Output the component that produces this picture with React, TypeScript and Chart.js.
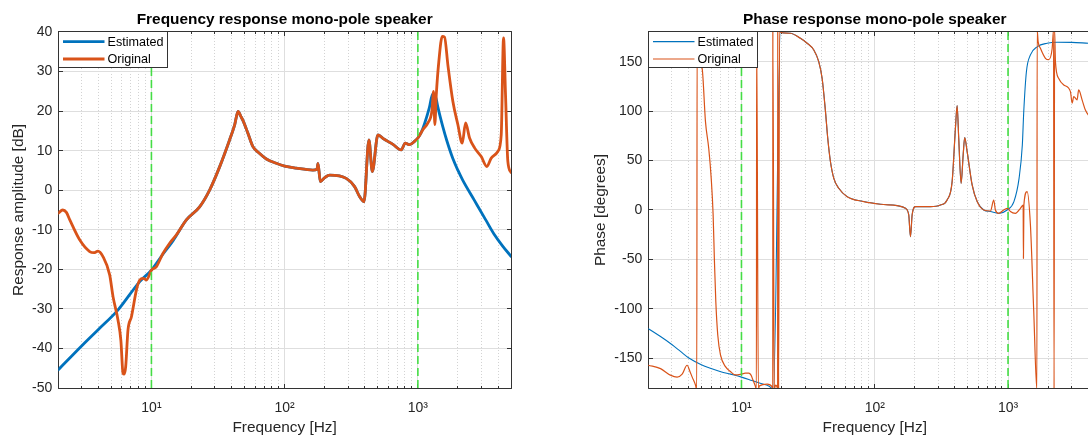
import React, { useEffect, useRef } from 'react';
import { Chart, registerables } from 'chart.js';

Chart.register(...registerables);

const FONT = '"Liberation Sans", Arial, Helvetica, sans-serif';
const TEXT = '#262626';
const AXIS = '#333333';
const BLUE = '#0072BD';
const ORANGE = '#D95319';
const GREEN = '#45dd45';

const seriesNames = ['Estimated', 'Original'];
const titles = ['Frequency response mono-pole speaker', 'Phase response mono-pole speaker'];
const yLabels = ['Response amplitude [dB]', 'Phase [degrees]'];
const xLabel = 'Frequency [Hz]';

const xRange = [2, 5000];
const xTickValues = [2, 3, 4, 5, 6, 7, 8, 9, 10, 20, 30, 40, 50, 60, 70, 80, 90, 100, 200, 300, 400, 500, 600, 700, 800, 900, 1000, 2000, 3000, 4000, 5000];
const xMajorValues = [10, 100, 1000];
const xMajorLabels = ['10¹', '10²', '10³'];
const magRange = [-50, 40];
const magTicks = [-50, -40, -30, -20, -10, 0, 10, 20, 30, 40];
const phaseRange = [-180, 180];
const phaseTicks = [-150, -100, -50, 0, 50, 100, 150];
const markerFreqs = [10, 1000];

// Magnitude, Original
const magOrigFreq = [2, 2.16, 2.3, 2.44, 2.9, 3.44, 3.7, 3.97, 4.33, 4.86, 5.15, 5.61, 5.9, 6.12, 6.25, 6.41, 6.67, 7.08, 7.72, 8.17, 8.7, 9.17, 10, 10.9, 12.2, 13.7, 15.4, 18.3, 23, 27.4, 32.5, 38.6, 42.2, 44.7, 47, 48.7, 53, 57.8, 64.9, 72.9, 86.6, 100, 122, 163, 175, 178, 185, 200, 218, 290, 335, 365, 394, 429, 455, 501, 546, 650, 750, 804, 867, 947, 1000, 1090, 1189, 1274, 1312, 1341, 1374, 1437, 1524, 1586, 1679, 1830, 1995, 2153, 2280, 2443, 2663, 2989, 3294, 3553, 3982, 4223, 4395, 4549, 4734, 5000];
const magOrigDb = [-5.8, -5.0, -5.6, -7.5, -12.6, -15.5, -15.8, -15.4, -16.8, -21.4, -26.9, -32.8, -38, -46.3, -46.5, -44.6, -35.3, -32, -25.2, -22.7, -22.3, -22.7, -20.2, -19.3, -16, -13.4, -11.3, -7.5, -4.2, 0.1, 5.9, 12.7, 16.6, 19.9, 18.6, 17.6, 14.4, 11.0, 9.3, 7.9, 6.8, 6.1, 5.6, 5.1, 5.3, 6.8, 2.2, 3.2, 3.8, 3.0, 0.9, -1.6, -2.9, 12.7, 4.7, 14, 13.1, 11.6, 10.2, 11.9, 11.5, 12.4, 13.2, 15.3, 17, 20, 25, 16.6, 24, 32.6, 38.9, 38.7, 31.7, 22.5, 16.6, 11.9, 17, 13.2, 10.7, 8.5, 6, 8.1, 9.8, 14, 38.5, 24.1, 7.3, 4.5];

// Magnitude, Estimated
const magEstFreq = [2, 3.07, 4, 5.6, 8.17, 10, 12, 14.5, 18.3, 23, 27.4, 32.5, 38.6, 42.2, 44.7, 47, 48.7, 53, 57.8, 64.9, 72.9, 86.6, 100, 122, 163, 175, 178, 185, 200, 218, 290, 335, 365, 394, 429, 455, 501, 546, 650, 750, 804, 867, 947, 1000, 1060, 1122, 1218, 1290, 1330, 1374, 1413, 1540, 1650, 1830, 2000, 2175, 2650, 3230, 3714, 4300, 5000];
const magEstDb = [-45.4, -39, -35.2, -30.3, -23.1, -20.2, -16.5, -12.8, -7.5, -4.2, 0.1, 5.9, 12.7, 16.6, 19.9, 18.6, 17.6, 14.4, 11.0, 9.3, 7.9, 6.8, 6.1, 5.6, 5.1, 5.3, 6.8, 2.2, 3.2, 3.8, 3.0, 0.9, -1.6, -2.9, 12.7, 4.7, 14, 13.1, 11.6, 10.2, 11.9, 11.5, 12.4, 13.2, 14.6, 16.8, 20.8, 24.3, 24.2, 23, 21, 16, 12.5, 8.0, 5.0, 2.5, -2.5, -7.5, -11.0, -14.0, -16.7];

// Phase, Original
const phOrigFreq = [2, 2.47, 2.93, 3.29, 3.59, 3.91, 4.1, 4.27, 4.52, 4.62, 4.65, 4.8, 5.07, 5.37, 5.68, 5.93, 6.13, 6.27, 6.42, 6.64, 6.96, 7.59, 8.27, 9.02, 9.83, 10.7, 11.34, 11.8, 12.2, 12.74, 12.95, 13.0, 13.39, 13.6, 15.6, 17.0, 17.18, 17.2, 17.62, 18.0, 18.5, 18.68, 18.72, 19.01, 19.3, 19.62, 20.8, 23.3, 27.7, 31.1, 34.9, 38.0, 40.3, 42.7, 44.4, 46.5, 49.3, 53.7, 62.1, 82.7, 110.4, 147.2, 170, 179.9, 185.3, 190.8, 202, 261.7, 311, 349, 380.7, 403, 415, 426.6, 444.6, 460.6, 473, 493.4, 537.9, 586.6, 657.3, 737.9, 781, 804, 851, 928, 995, 1042, 1136, 1239, 1298, 1305, 1315, 1390, 1472, 1559, 1647, 1653, 1683, 1750, 1908, 2020, 2142, 2195, 2215, 2235, 2268, 2401, 2618, 2938, 3026, 3111, 3297, 3389, 3594, 3805, 4009, 4500, 5000];
const phOrigDeg = [-157, -160.4, -167, -169, -166, -157, -163, -169, -177, -182, 182, 152, 143.3, 89.4, 62.4, 32, -5, -52, -92.6, -126.4, -146.6, -158.4, -163.4, -166.8, -166.2, -165, -165, -167, -172, -178.6, -182, 182, -182, -178, -176, -179, -182, 182, -182, -177, -179, -182, 182, -182, 182, 180, 179, 178.7, 173.6, 168.6, 161.8, 150, 133, 99.5, 72.5, 49, 32, 22, 13.5, 8.5, 5.8, 4.4, 1.7, -5, -27, -5, 3.4, 3.4, 5, 10.1, 28.7, 82.6, 105.6, 72.5, 27, 55.6, 73.2, 59, 25.3, 8.5, 0, -1, 10, 0, -3.4, 0, 1.7, -1.6, -3.4, 1.7, 5, -49, 5, 18.6, -15, -102.7, -182, 182, 170, 163.5, 153.4, 152, 163, 182, -182, 182, 150, 133, 126.4, 119.7, 108, 114.7, 111.4, 121.4, 111.4, 101, 96, 92, 88];

// Phase, Estimated
const phEstFreq = [2, 2.47, 3, 3.49, 4.06, 5, 6, 7, 8.27, 10, 12, 14, 16, 17.4, 19.62, 20.8, 23.3, 27.7, 31.1, 34.9, 38.0, 40.3, 42.7, 44.4, 46.5, 49.3, 53.7, 62.1, 82.7, 110.4, 147.2, 170, 179.9, 185.3, 190.8, 202, 261.7, 311, 349, 380.7, 403, 415, 426.6, 444.6, 460.6, 473, 493.4, 537.9, 586.6, 657.3, 737.9, 851, 985, 1107, 1210, 1280, 1312, 1374, 1472, 1653, 1963, 2333, 3000, 4009, 5000];
const phEstDeg = [-120, -128, -136, -143, -150, -156.5, -160.5, -163.5, -166, -169, -172.5, -175.5, -178, -181, 180, 179, 178.7, 173.6, 168.6, 161.8, 150, 133, 99.5, 72.5, 49, 32, 22, 13.5, 8.5, 5.8, 4.4, 1.7, -5, -27, -5, 3.4, 3.4, 5, 10.1, 28.7, 82.6, 105.6, 72.5, 27, 55.6, 73.2, 59, 25.3, 8.5, 0, -1.6, -3.4, 0, 8.5, 32, 65.7, 99.5, 140, 156.8, 165, 168.6, 169.6, 169.5, 168.6, 168];

const toPoints = (f: number[], v: number[]) => f.map((x, i) => ({ x, y: v[i] }));
// same pixel alignment Chart.js uses for 1px grid lines
const align = (p: number) => Math.round(p - 0.5) + 0.5;

function framePlugin(yTicks: number[]) {
  return {
    id: 'matlabFrame',
    beforeDatasetsDraw(chart: any) {
      const { ctx, chartArea: a, scales } = chart;
      const L = align(a.left);
      const R = align(a.right);
      const T = align(a.top);
      const B = align(a.bottom);
      ctx.save();
      ctx.strokeStyle = AXIS;
      ctx.lineWidth = 1;
      ctx.beginPath();
      ctx.rect(L, T, R - L, B - T);
      xTickValues.forEach((v) => {
        const px = align(scales.x.getPixelForValue(v));
        const len = xMajorValues.includes(v) ? 4.5 : 2.5;
        ctx.moveTo(px, B);
        ctx.lineTo(px, B - len);
        ctx.moveTo(px, T);
        ctx.lineTo(px, T + len);
      });
      yTicks.forEach((v) => {
        const py = align(scales.y.getPixelForValue(v));
        ctx.moveTo(L, py);
        ctx.lineTo(L + 4.5, py);
        ctx.moveTo(R, py);
        ctx.lineTo(R - 4.5, py);
      });
      ctx.stroke();
      ctx.restore();
    },
    afterDatasetsDraw(chart: any) {
      const { ctx, chartArea: a, scales } = chart;
      ctx.save();
      ctx.beginPath();
      ctx.rect(a.left, a.top, a.right - a.left, a.bottom - a.top);
      ctx.clip();
      ctx.strokeStyle = GREEN;
      ctx.lineWidth = 1.6;
      ctx.setLineDash([8, 4]);
      markerFreqs.forEach((f) => {
        const px = scales.x.getPixelForValue(f);
        ctx.beginPath();
        ctx.moveTo(px, a.top);
        ctx.lineTo(px, a.bottom);
        ctx.stroke();
      });
      ctx.restore();
    },
  };
}

function legendPlugin(entries: { label: string; color: string }[], lineWidth: number) {
  return {
    id: 'matlabLegend',
    afterDraw(chart: any) {
      const { ctx, chartArea: a } = chart;
      const x0 = align(a.left);
      const y0 = align(a.top);
      const w = 109;
      const h = 36;
      ctx.save();
      ctx.fillStyle = '#ffffff';
      ctx.fillRect(x0, y0, w, h);
      ctx.strokeStyle = AXIS;
      ctx.lineWidth = 1;
      ctx.strokeRect(x0, y0, w, h);
      entries.forEach((e, i) => {
        const cy = y0 + 10.2 + i * 17.3;
        ctx.strokeStyle = e.color;
        ctx.lineWidth = lineWidth;
        ctx.beginPath();
        ctx.moveTo(x0 + 4.5, cy);
        ctx.lineTo(x0 + 46, cy);
        ctx.stroke();
        ctx.fillStyle = '#000000';
        ctx.font = `12.6px ${FONT}`;
        ctx.textBaseline = 'middle';
        ctx.textAlign = 'left';
        ctx.fillText(e.label, x0 + 49, cy + 0.5);
      });
      ctx.restore();
    },
  };
}

function buildChart(canvas: HTMLCanvasElement, spec: any) {
  const line = (label: string, color: string, pts: any[], width: number) => ({
    label,
    data: pts,
    borderColor: color,
    borderWidth: width,
    pointRadius: 0,
    cubicInterpolationMode: 'monotone',
    fill: false,
    clip: 0,
    borderJoinStyle: 'round',
    borderCapStyle: 'round',
  });
  return new Chart(canvas, {
    type: 'line',
    data: {
      datasets: [
        line(seriesNames[1], ORANGE, spec.orig, spec.width),
        line(seriesNames[0], BLUE, spec.est, spec.estWidth),
      ],
    },
    options: {
      responsive: false,
      animation: false,
      devicePixelRatio: 1,
      events: [],
      layout: { padding: { left: 0, right: spec.padRight, top: 0, bottom: 0 } },
      plugins: {
        legend: { display: false },
        tooltip: { enabled: false },
        title: {
          display: true,
          text: spec.title,
          fullSize: false,
          color: '#000000',
          font: { family: FONT, size: 15.4, weight: 'bold' },
          padding: { top: 10.5, bottom: 3 },
        },
      },
      scales: {
        x: {
          type: 'logarithmic',
          min: xRange[0],
          max: xRange[1],
          afterBuildTicks: (s: any) => {
            s.ticks = xTickValues.map((v) => ({ value: v }));
          },
          afterFit: (s: any) => {
            s.height = 49;
          },
          ticks: {
            autoSkip: false,
            maxRotation: 0,
            minRotation: 0,
            padding: 11.5,
            color: TEXT,
            font: { family: FONT, size: 14 },
            callback: (v: any) => {
              const i = xMajorValues.indexOf(Number(v));
              return i >= 0 ? xMajorLabels[i] : '';
            },
          },
          grid: {
            drawTicks: false,
            lineWidth: 1,
            color: (ctx: any) => {
              const v = ctx.tick ? ctx.tick.value : 0;
              return xMajorValues.includes(v) ? '#dedede' : '#d2d2d2';
            },
          },
          border: {
            display: false,
            dash: (ctx: any) => {
              const v = ctx.tick ? ctx.tick.value : 0;
              return ctx.tick && !xMajorValues.includes(v) ? [1, 2] : [];
            },
          },
          title: {
            display: true,
            text: xLabel,
            color: TEXT,
            font: { family: FONT, size: 15.4 },
            padding: { top: 0, bottom: 0 },
          },
        },
        y: {
          type: 'linear',
          min: spec.yRange[0],
          max: spec.yRange[1],
          afterBuildTicks: (s: any) => {
            s.ticks = spec.yTicks.map((v: number) => ({ value: v }));
          },
          afterFit: (s: any) => {
            s.width = spec.yAxisWidth;
          },
          ticks: {
            padding: 6,
            color: TEXT,
            font: { family: FONT, size: 14 },
          },
          grid: { drawTicks: false, lineWidth: 1, color: '#dedede' },
          border: { display: false },
          title: {
            display: true,
            text: spec.yLabel,
            color: TEXT,
            font: { family: FONT, size: 15.4 },
            padding: { top: spec.yTitlePad, bottom: 0 },
          },
        },
      },
    },
    plugins: [
      framePlugin(spec.yTicks),
      legendPlugin(
        [
          { label: seriesNames[0], color: BLUE },
          { label: seriesNames[1], color: ORANGE },
        ],
        spec.legendWidth
      ),
    ],
  } as any);
}

export default function App() {
  const leftRef = useRef<HTMLCanvasElement>(null);
  const rightRef = useRef<HTMLCanvasElement>(null);

  useEffect(() => {
    if (!leftRef.current || !rightRef.current) return;
    const c1 = buildChart(leftRef.current, {
      title: titles[0],
      yLabel: yLabels[0],
      yRange: magRange,
      yTicks: magTicks,
      orig: toPoints(magOrigFreq, magOrigDb),
      est: toPoints(magEstFreq, magEstDb),
      width: 2.8,
      estWidth: 2.8,
      legendWidth: 2.8,
      yAxisWidth: 58.3,
      yTitlePad: 10,
      padRight: 49,
    });
    const c2 = buildChart(rightRef.current, {
      title: titles[1],
      yLabel: yLabels[1],
      yRange: phaseRange,
      yTicks: phaseTicks,
      orig: toPoints(phOrigFreq, phOrigDeg),
      est: toPoints(phEstFreq, phEstDeg),
      width: 1.2,
      estWidth: 1.1,
      legendWidth: 1.2,
      yAxisWidth: 88.3,
      yTitlePad: 31.5,
      padRight: 18.8,
    });
    return () => {
      c1.destroy();
      c2.destroy();
    };
  }, []);

  return (
    <div
      style={{
        position: 'fixed',
        left: 0,
        top: 0,
        width: '100vw',
        height: '100vh',
        overflow: 'hidden',
        background: '#ffffff',
      }}
    >
      <canvas
        ref={leftRef}
        width={560}
        height={437}
        style={{ position: 'absolute', left: 0, top: 0, width: 560, height: 437 }}
      />
      <canvas
        ref={rightRef}
        width={560}
        height={437}
        style={{ position: 'absolute', left: 560, top: 0, width: 560, height: 437 }}
      />
    </div>
  );
}
